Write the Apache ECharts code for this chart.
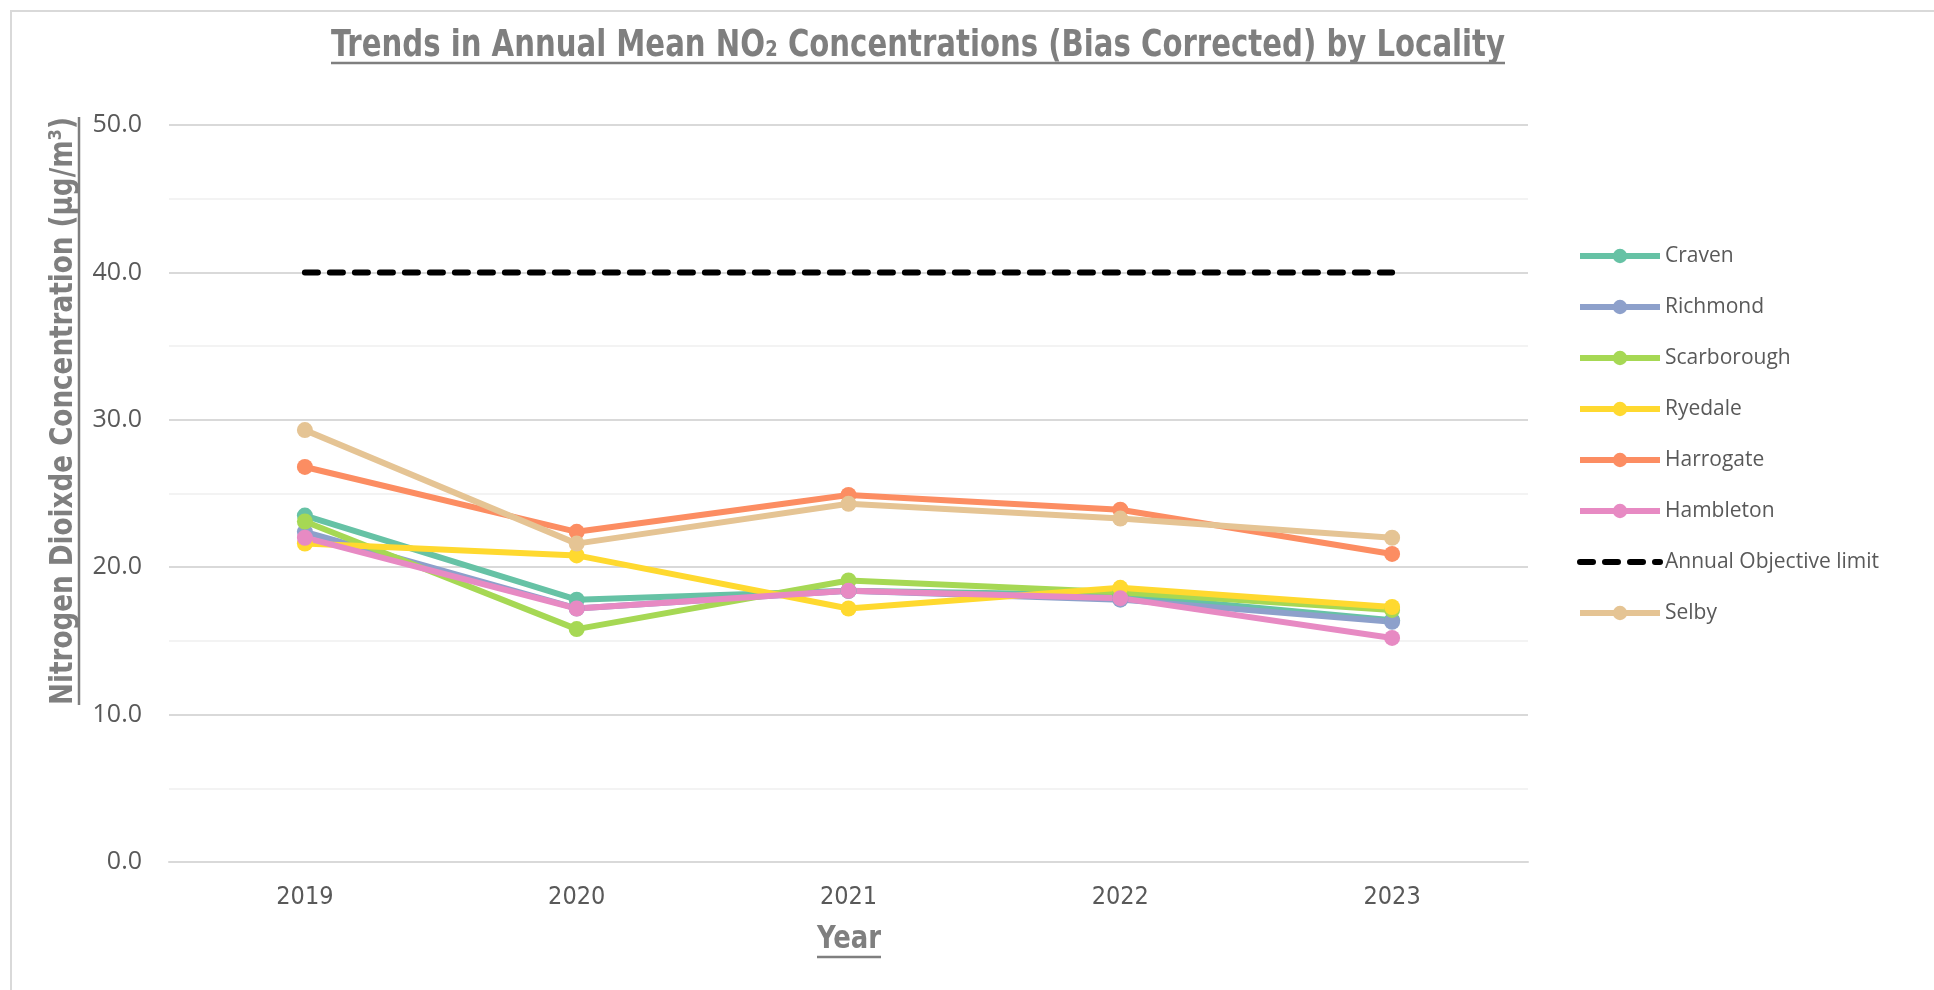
<!DOCTYPE html>
<html>
<head>
<meta charset="utf-8">
<title>NO2 trends by locality</title>
<script src="https://cdn.jsdelivr.net/npm/echarts@6/dist/echarts.min.js"></script>
<style>
  html, body { margin: 0; padding: 0; background: #fff; }
  #chart { width: 1934px; height: 990px; }
</style>
</head>
<body>
<div id="chart"></div>
<script>
  // data (ug/m3, bias corrected)
  const years = ['2019', '2020', '2021', '2022', '2023'];
  const craven = [23.5, 17.8, 18.4, 18.1, 16.4];
  const richmond = [22.4, 17.2, 18.4, 17.8, 16.3];
  const scarborough = [23.1, 15.8, 19.1, 18.3, 17.1];
  const ryedale = [21.6, 20.8, 17.2, 18.6, 17.3];
  const harrogate = [26.8, 22.4, 24.9, 23.9, 20.9];
  const hambleton = [22.0, 17.2, 18.4, 17.9, 15.2];
  const objectiveLimit = [40, 40, 40, 40, 40];
  const selby = [29.3, 21.6, 24.3, 23.3, 22.0];

  const narrow = '"Liberation Sans Narrow", "Arial Narrow", "DejaVu Sans Condensed", sans-serif';
  const plain = '"Open Sans", "Noto Sans", sans-serif';
  const grey = '#7f7f7f';

  const titleText = 'Trends in Annual Mean NO\u2082 Concentrations (Bias Corrected) by Locality';
  const yName = 'Nitrogen Dioixde Concentration (\u00b5g/m\u00b3)';
  const titleFont = 'bold 38px ' + narrow;
  const yNameFont = 'bold 32px ' + narrow;
  const xNameFont = 'bold 32px ' + narrow;

  // no narrow font installed, so squeeze the headings to the reference widths
  const ctx = document.createElement('canvas').getContext('2d');
  function textWidth(txt, font) {
    ctx.font = font;
    return ctx.measureText(txt).width;
  }
  const titleW = 1174, yNameW = 588, xNameW = 64;
  const titleSx = titleW / textWidth(titleText, titleFont);
  const yNameSx = yNameW / textWidth(yName, yNameFont);
  const xNameSx = xNameW / textWidth('Year', xNameFont);

  const titleX = 918, titleY = 46;
  const yNameX = 64, yNameY = 411;
  const xNameX = 849, xNameY = 940;

  function lineSeries(name, data, color) {
    return {
      name: name,
      type: 'line',
      data: data,
      symbol: 'circle',
      symbolSize: 16,
      lineStyle: { color: color, width: 6 },
      itemStyle: { color: color },
      emphasis: { disabled: true }
    };
  }

  const chart = echarts.init(document.getElementById('chart'));
  chart.setOption({
    backgroundColor: '#fff',
    animation: false,
    textStyle: { fontFamily: plain },
    grid: { left: 169, right: 406, top: 125, bottom: 128 },
    legend: {
      orient: 'vertical',
      left: 1572,
      top: 237,
      itemWidth: 80,
      itemHeight: 18,
      itemGap: 23,
      lineStyle: { width: 6 },
      textStyle: { color: '#595959', fontSize: 21, lineHeight: 28, fontFamily: plain },
      data: ['Craven', 'Richmond', 'Scarborough', 'Ryedale', 'Harrogate', 'Hambleton',
             { name: 'Annual Objective limit', itemStyle: { opacity: 0 } }, 'Selby']
    },
    xAxis: {
      type: 'category',
      data: years,
      boundaryGap: true,
      axisTick: { show: false },
      axisLine: { lineStyle: { color: '#d9d9d9', width: 2 } },
      axisLabel: { color: '#595959', fontSize: 25, fontFamily: narrow, margin: 23 }
    },
    yAxis: {
      type: 'value',
      min: 0,
      max: 50,
      interval: 10,
      axisLine: { show: false },
      axisTick: { show: false },
      axisLabel: {
        color: '#595959', fontSize: 25, fontFamily: plain, margin: 27,
        formatter: v => v.toFixed(1)
      },
      splitLine: { lineStyle: { color: '#d9d9d9', width: 2 } },
      minorTick: { show: false, splitNumber: 2 },
      minorSplitLine: { show: true, lineStyle: { color: '#f0f0f0', width: 1.5 } }
    },
    series: [
      lineSeries('Craven', craven, '#66c2a5'),
      lineSeries('Richmond', richmond, '#8da0cb'),
      lineSeries('Scarborough', scarborough, '#a6d854'),
      lineSeries('Ryedale', ryedale, '#ffd92f'),
      lineSeries('Harrogate', harrogate, '#fc8d62'),
      lineSeries('Hambleton', hambleton, '#e78ac3'),
      {
        name: 'Annual Objective limit',
        type: 'line',
        data: objectiveLimit,
        symbol: 'none',
        lineStyle: { color: '#000', width: 6, type: [13, 12], cap: 'round' },
        itemStyle: { color: '#000' },
        emphasis: { disabled: true }
      },
      lineSeries('Selby', selby, '#e5c494')
    ],
    graphic: [
      // chart-area border as in the spreadsheet export
      {
        type: 'rect', silent: true,
        shape: { x: 11, y: 11, width: 1940, height: 1000 },
        style: { fill: null, stroke: '#d9d9d9', lineWidth: 2 }
      },
      {
        type: 'text', silent: true, x: titleX, y: titleY, scaleX: titleSx,
        style: { text: titleText, font: titleFont, fill: grey, align: 'center', verticalAlign: 'middle' }
      },
      {
        type: 'line', silent: true,
        shape: { x1: titleX - titleW / 2, y1: titleY + 17, x2: titleX + titleW / 2, y2: titleY + 17 },
        style: { stroke: grey, lineWidth: 2.5 }
      },
      {
        type: 'text', silent: true, x: yNameX, y: yNameY, rotation: Math.PI / 2, scaleX: yNameSx,
        style: { text: yName, font: yNameFont, fill: grey, align: 'center', verticalAlign: 'middle' }
      },
      {
        type: 'line', silent: true,
        shape: { x1: yNameX + 15, y1: yNameY - yNameW / 2, x2: yNameX + 15, y2: yNameY + yNameW / 2 },
        style: { stroke: grey, lineWidth: 2.5 }
      },
      {
        type: 'text', silent: true, x: xNameX, y: xNameY, scaleX: xNameSx,
        style: { text: 'Year', font: xNameFont, fill: grey, align: 'center', verticalAlign: 'middle' }
      },
      {
        type: 'line', silent: true,
        shape: { x1: xNameX - xNameW / 2, y1: xNameY + 17, x2: xNameX + xNameW / 2, y2: xNameY + 17 },
        style: { stroke: grey, lineWidth: 2.5 }
      }
    ]
  });
</script>
</body>
</html>
